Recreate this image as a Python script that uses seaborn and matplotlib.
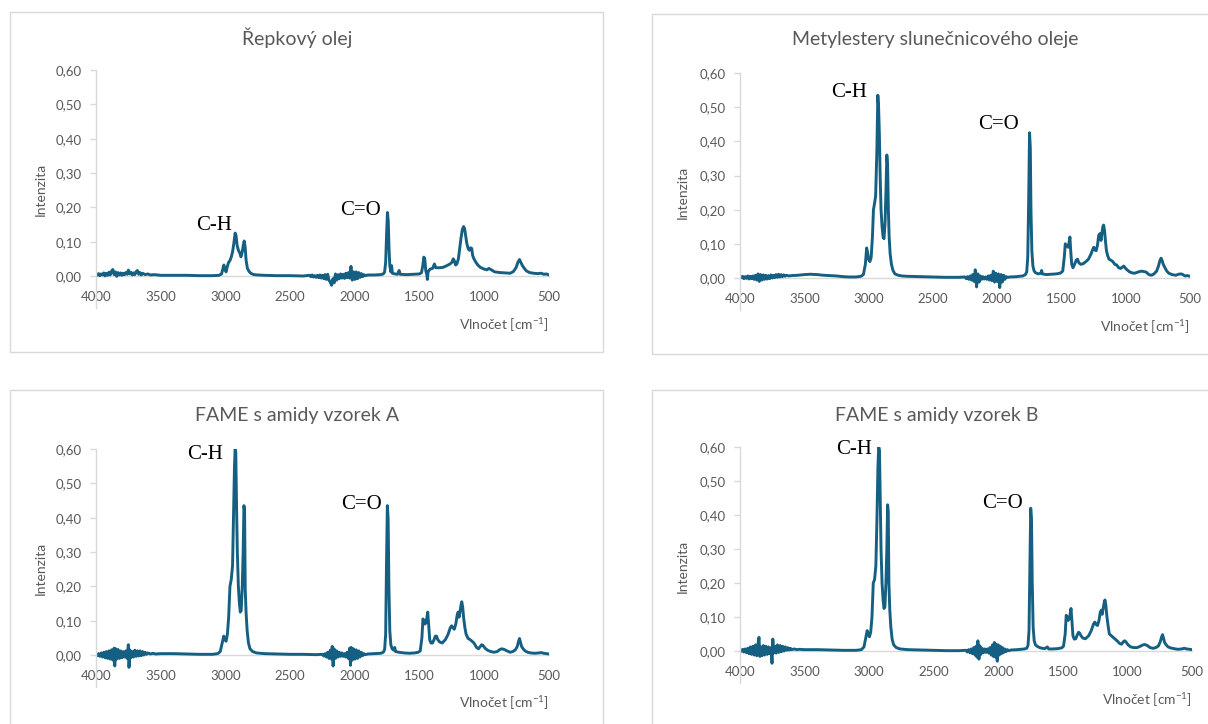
import numpy as np
import pandas as pd
import matplotlib
matplotlib.use("Agg")
import matplotlib.pyplot as plt
import seaborn as sns
from matplotlib.patches import Rectangle
from matplotlib.ticker import FuncFormatter

# ---------------- data (wavenumber [cm-1], intensity) ----------------
titles = ["Řepkový olej", "Metylestery slunečnicového oleje",
          "FAME s amidy vzorek A", "FAME s amidy vzorek B"]
x_ticks = [4000, 3500, 3000, 2500, 2000, 1500, 1000, 500]
y_ticks = [0.0, 0.1, 0.2, 0.3, 0.4, 0.5, 0.6]

repkovy_olej = [
    (4000, 0.004), (3990, 0.002), (3980, 0.007), (3970, 0.001), (3960, 0.006), (3950, 0.003),
    (3940, 0.009), (3930, 0.000), (3920, 0.008), (3910, 0.002), (3900, 0.011), (3890, 0.003),
    (3880, 0.014), (3870, 0.019), (3860, 0.004), (3850, 0.012), (3840, -0.001), (3830, 0.010),
    (3820, 0.003), (3810, 0.009), (3800, 0.002), (3790, 0.008), (3780, 0.004), (3770, 0.010),
    (3760, 0.005), (3750, 0.017), (3740, 0.006), (3730, 0.011), (3720, 0.003), (3710, 0.009),
    (3700, 0.004), (3690, 0.013), (3680, 0.016), (3670, 0.005), (3660, 0.010), (3650, 0.003),
    (3640, 0.008), (3620, 0.004), (3600, 0.006), (3580, 0.003), (3550, 0.004), (3500, 0.002),
    (3400, 0.002), (3300, 0.002), (3200, 0.001), (3100, 0.001), (3050, 0.002), (3030, 0.006),
    (3020, 0.020), (3012, 0.032), (3005, 0.020), (2995, 0.012), (2985, 0.028), (2975, 0.040),
    (2965, 0.045), (2955, 0.055), (2945, 0.070), (2935, 0.095), (2925, 0.125), (2918, 0.118),
    (2910, 0.090), (2900, 0.075), (2890, 0.068), (2880, 0.056), (2870, 0.070), (2862, 0.090),
    (2855, 0.102), (2848, 0.085), (2840, 0.045), (2830, 0.022), (2815, 0.012), (2800, 0.007),
    (2780, 0.004), (2750, 0.003), (2700, 0.002), (2600, 0.001), (2500, 0.001), (2400, 0.000),
    (2350, 0.002), (2340, -0.002), (2330, 0.003), (2320, -0.003), (2310, 0.001), (2300, -0.004),
    (2290, 0.002), (2280, -0.005), (2270, 0.003), (2260, -0.006), (2250, 0.002), (2240, -0.008),
    (2230, 0.004), (2220, -0.010), (2210, 0.005), (2200, -0.012), (2190, -0.018), (2180, -0.027),
    (2170, -0.008), (2160, -0.020), (2150, 0.006), (2140, -0.012), (2130, 0.004), (2120, -0.008),
    (2110, 0.006), (2100, -0.006), (2090, 0.005), (2080, -0.007), (2070, 0.008), (2060, -0.005),
    (2050, 0.010), (2040, -0.006), (2030, 0.028), (2020, -0.012), (2010, 0.012), (2000, -0.010),
    (1990, 0.012), (1980, -0.008), (1970, 0.010), (1960, -0.004), (1950, 0.007), (1940, -0.002),
    (1930, 0.004), (1920, 0.001), (1900, 0.003), (1850, 0.003), (1800, 0.004), (1780, 0.006),
    (1770, 0.012), (1762, 0.040), (1755, 0.120), (1748, 0.185), (1742, 0.160), (1736, 0.080),
    (1730, 0.030), (1722, 0.012), (1716, 0.030), (1710, 0.008), (1690, 0.006), (1670, 0.005),
    (1658, 0.016), (1650, 0.005), (1600, 0.004), (1550, 0.005), (1500, 0.006), (1485, 0.010),
    (1475, 0.030), (1467, 0.055), (1460, 0.050), (1452, 0.015), (1444, 0.005), (1440, -0.010),
    (1434, 0.012), (1420, 0.020), (1400, 0.022), (1385, 0.035), (1375, 0.024), (1350, 0.024),
    (1320, 0.025), (1290, 0.030), (1265, 0.035), (1250, 0.040), (1240, 0.050), (1232, 0.045),
    (1222, 0.032), (1212, 0.035), (1200, 0.050), (1190, 0.080), (1180, 0.110), (1170, 0.135),
    (1160, 0.144), (1152, 0.138), (1145, 0.120), (1135, 0.095), (1125, 0.080), (1115, 0.075),
    (1105, 0.082), (1097, 0.080), (1090, 0.060), (1080, 0.050), (1065, 0.040), (1050, 0.032),
    (1030, 0.025), (1000, 0.020), (980, 0.018), (965, 0.022), (950, 0.019), (920, 0.012),
    (880, 0.010), (840, 0.009), (800, 0.008), (775, 0.013), (755, 0.024), (740, 0.040),
    (728, 0.048), (718, 0.040), (705, 0.030), (690, 0.022), (675, 0.015), (650, 0.010),
    (620, 0.008), (590, 0.007), (560, 0.008), (540, 0.005), (520, 0.006), (500, 0.003),
]

metylestery = [
    (4000, 0.003), (3990, 0.001), (3980, 0.005), (3970, -0.002), (3960, 0.004), (3950, -0.001),
    (3940, 0.006), (3930, -0.003), (3920, 0.005), (3910, -0.002), (3900, 0.006), (3890, -0.004),
    (3880, 0.008), (3870, -0.006), (3860, 0.012), (3850, -0.010), (3840, 0.010), (3830, -0.006),
    (3820, 0.009), (3810, -0.004), (3800, 0.008), (3790, -0.003), (3780, 0.007), (3770, -0.002),
    (3760, 0.009), (3750, 0.000), (3740, 0.008), (3730, 0.001), (3720, 0.010), (3710, 0.002),
    (3700, 0.011), (3690, 0.003), (3680, 0.010), (3670, 0.004), (3660, 0.009), (3650, 0.005),
    (3640, 0.008), (3620, 0.006), (3600, 0.007), (3550, 0.008), (3500, 0.010), (3450, 0.011),
    (3400, 0.010), (3350, 0.008), (3300, 0.007), (3250, 0.006), (3200, 0.004), (3150, 0.003),
    (3100, 0.003), (3060, 0.005), (3040, 0.010), (3025, 0.040), (3015, 0.088), (3008, 0.075),
    (3000, 0.055), (2990, 0.048), (2980, 0.060), (2970, 0.120), (2962, 0.200), (2955, 0.215),
    (2945, 0.240), (2935, 0.380), (2928, 0.535), (2922, 0.500), (2916, 0.420), (2910, 0.300),
    (2903, 0.200), (2895, 0.150), (2887, 0.120), (2880, 0.115), (2872, 0.160), (2865, 0.250),
    (2858, 0.360), (2852, 0.330), (2846, 0.200), (2840, 0.120), (2832, 0.070), (2822, 0.040),
    (2810, 0.022), (2795, 0.012), (2770, 0.008), (2740, 0.006), (2700, 0.005), (2600, 0.004),
    (2500, 0.003), (2400, 0.002), (2300, 0.002), (2250, 0.003),
    (2240, -0.002), (2230, 0.004), (2220, -0.004), (2210, 0.006), (2200, -0.006), (2190, 0.010),
    (2180, -0.010), (2170, 0.024), (2160, -0.026), (2150, 0.012), (2140, -0.012), (2130, 0.006),
    (2120, -0.004), (2110, 0.004), (2100, -0.003), (2090, 0.003), (2080, -0.004), (2070, 0.006),
    (2060, -0.006), (2050, 0.008), (2040, -0.008), (2030, 0.020), (2020, -0.012), (2010, 0.014),
    (2000, -0.010), (1990, 0.012), (1980, -0.028), (1970, 0.010), (1960, -0.012), (1950, 0.008),
    (1940, -0.004), (1930, 0.004), (1920, 0.002), (1900, 0.003), (1850, 0.004), (1800, 0.006),
    (1780, 0.010), (1770, 0.018), (1762, 0.060), (1755, 0.220), (1748, 0.425), (1742, 0.380),
    (1737, 0.200), (1730, 0.080), (1722, 0.035), (1712, 0.020), (1700, 0.015), (1680, 0.012),
    (1660, 0.014), (1654, 0.022), (1648, 0.012), (1620, 0.010), (1580, 0.011), (1540, 0.012),
    (1510, 0.014), (1490, 0.020), (1478, 0.060), (1470, 0.100), (1462, 0.095), (1455, 0.095),
    (1448, 0.090), (1440, 0.105), (1434, 0.120), (1428, 0.080), (1420, 0.040), (1410, 0.030),
    (1398, 0.040), (1385, 0.052), (1375, 0.055), (1365, 0.045), (1350, 0.040), (1330, 0.042),
    (1310, 0.048), (1290, 0.055), (1270, 0.070), (1255, 0.085), (1248, 0.090), (1240, 0.082),
    (1230, 0.080), (1220, 0.095), (1210, 0.125), (1200, 0.130), (1192, 0.110), (1185, 0.130),
    (1178, 0.150), (1172, 0.155), (1165, 0.140), (1158, 0.110), (1150, 0.080), (1140, 0.065),
    (1130, 0.055), (1115, 0.052), (1100, 0.048), (1085, 0.040), (1070, 0.038), (1055, 0.030),
    (1040, 0.028), (1025, 0.032), (1015, 0.035), (1005, 0.030), (990, 0.024), (970, 0.018),
    (950, 0.015), (930, 0.014), (900, 0.018), (880, 0.020), (860, 0.019), (840, 0.017),
    (820, 0.010), (800, 0.008), (780, 0.012), (760, 0.020), (745, 0.035), (735, 0.050),
    (725, 0.058), (718, 0.052), (708, 0.040), (695, 0.030), (680, 0.020), (665, 0.014),
    (640, 0.010), (610, 0.008), (590, 0.011), (570, 0.012), (555, 0.010), (540, 0.006),
    (520, 0.007), (500, 0.005),
]

fame_a = [
    (4000, 0.002), (3990, -0.002), (3980, 0.004), (3970, -0.004), (3960, 0.006), (3950, -0.006),
    (3940, 0.008), (3930, -0.008), (3920, 0.010), (3910, -0.010), (3900, 0.012), (3890, -0.012),
    (3880, 0.015), (3870, -0.015), (3860, 0.020), (3855, -0.032), (3848, 0.018), (3840, -0.012),
    (3830, 0.016), (3820, -0.010), (3810, 0.012), (3800, -0.008), (3790, 0.010), (3780, -0.006),
    (3770, 0.012), (3760, -0.010), (3750, 0.030), (3745, -0.036), (3738, 0.015), (3730, -0.008),
    (3720, 0.010), (3710, -0.006), (3700, 0.014), (3690, -0.004), (3680, 0.012), (3670, -0.003),
    (3660, 0.012), (3650, -0.002), (3640, 0.010), (3630, 0.000), (3620, 0.008), (3610, 0.002),
    (3600, 0.006), (3580, 0.003), (3560, 0.005), (3540, 0.003), (3500, 0.004), (3400, 0.004),
    (3300, 0.003), (3200, 0.002), (3100, 0.002), (3060, 0.004), (3040, 0.010), (3025, 0.035),
    (3013, 0.055), (3005, 0.045), (2995, 0.040), (2985, 0.060), (2975, 0.110), (2965, 0.200),
    (2955, 0.220), (2945, 0.260), (2938, 0.400), (2930, 0.550), (2925, 0.600), (2920, 0.590),
    (2914, 0.430), (2908, 0.300), (2900, 0.200), (2892, 0.150), (2885, 0.125), (2878, 0.130),
    (2870, 0.200), (2863, 0.300), (2857, 0.435), (2852, 0.420), (2847, 0.190), (2840, 0.120),
    (2832, 0.070), (2822, 0.035), (2810, 0.018), (2790, 0.010), (2760, 0.006), (2700, 0.004),
    (2600, 0.003), (2500, 0.002), (2400, 0.002), (2300, 0.001), (2250, 0.002),
    (2240, -0.003), (2230, 0.004), (2220, -0.006), (2210, 0.008), (2200, -0.010), (2190, 0.014),
    (2180, -0.012), (2175, 0.025), (2168, -0.032), (2160, 0.018), (2150, -0.010), (2140, 0.012),
    (2130, -0.006), (2120, 0.008), (2110, -0.004), (2100, 0.006), (2090, -0.004), (2080, 0.004),
    (2070, -0.006), (2060, 0.008), (2050, -0.010), (2040, 0.020), (2034, -0.030), (2028, 0.022),
    (2020, -0.015), (2010, 0.018), (2000, -0.012), (1990, 0.015), (1980, -0.010), (1970, 0.012),
    (1960, -0.006), (1950, 0.008), (1940, -0.002), (1930, 0.004), (1920, 0.001), (1900, 0.003),
    (1850, 0.004), (1800, 0.005), (1780, 0.008), (1770, 0.016), (1762, 0.060), (1756, 0.250),
    (1749, 0.435), (1743, 0.400), (1737, 0.200), (1730, 0.070), (1722, 0.030), (1712, 0.018),
    (1700, 0.014), (1692, 0.022), (1685, 0.010), (1660, 0.008), (1620, 0.006), (1580, 0.005),
    (1540, 0.006), (1510, 0.008), (1495, 0.012), (1482, 0.050), (1474, 0.105), (1466, 0.100),
    (1458, 0.090), (1450, 0.095), (1443, 0.110), (1437, 0.125), (1430, 0.090), (1422, 0.045),
    (1412, 0.035), (1400, 0.035), (1388, 0.045), (1378, 0.055), (1369, 0.055), (1360, 0.045),
    (1345, 0.038), (1325, 0.035), (1300, 0.045), (1280, 0.060), (1262, 0.080), (1252, 0.085),
    (1243, 0.080), (1232, 0.075), (1220, 0.090), (1210, 0.115), (1202, 0.125), (1195, 0.110),
    (1188, 0.125), (1180, 0.145), (1174, 0.155), (1167, 0.140), (1160, 0.110), (1150, 0.080),
    (1140, 0.060), (1125, 0.048), (1110, 0.045), (1095, 0.040), (1080, 0.035), (1060, 0.022),
    (1045, 0.018), (1030, 0.025), (1020, 0.030), (1010, 0.028), (995, 0.020), (975, 0.014),
    (950, 0.010), (925, 0.008), (900, 0.010), (880, 0.016), (865, 0.018), (845, 0.016),
    (825, 0.012), (800, 0.008), (780, 0.010), (760, 0.015), (745, 0.025), (735, 0.040),
    (728, 0.048), (722, 0.040), (712, 0.025), (700, 0.018), (685, 0.012), (665, 0.008),
    (640, 0.006), (610, 0.005), (580, 0.006), (560, 0.007), (540, 0.005), (520, 0.004),
    (500, 0.003),
]

fame_b = [
    (4000, 0.003), (3990, -0.001), (3980, 0.005), (3970, -0.003), (3960, 0.006), (3950, -0.005),
    (3940, 0.008), (3930, -0.008), (3920, 0.012), (3910, -0.010), (3900, 0.014), (3890, -0.012),
    (3880, 0.018), (3870, -0.014), (3860, 0.022), (3853, 0.040), (3846, -0.016), (3840, 0.012),
    (3830, -0.014), (3820, 0.016), (3810, -0.012), (3800, 0.014), (3790, -0.010), (3780, 0.012),
    (3770, -0.008), (3760, 0.010), (3752, -0.036), (3746, 0.035), (3738, -0.006), (3730, 0.014),
    (3720, -0.006), (3710, 0.018), (3700, -0.004), (3690, 0.016), (3680, -0.002), (3670, 0.014),
    (3660, 0.000), (3650, 0.012), (3640, 0.002), (3630, 0.010), (3620, 0.003), (3610, 0.008),
    (3600, 0.004), (3580, 0.006), (3560, 0.004), (3540, 0.005), (3500, 0.004), (3400, 0.004),
    (3300, 0.003), (3200, 0.002), (3100, 0.002), (3060, 0.004), (3040, 0.012), (3025, 0.040),
    (3015, 0.060), (3007, 0.050), (2998, 0.042), (2988, 0.055), (2978, 0.100), (2968, 0.200),
    (2958, 0.210), (2948, 0.250), (2940, 0.380), (2932, 0.540), (2926, 0.600), (2920, 0.590),
    (2914, 0.440), (2908, 0.300), (2900, 0.200), (2892, 0.150), (2885, 0.125), (2878, 0.130),
    (2870, 0.200), (2863, 0.300), (2857, 0.430), (2852, 0.410), (2847, 0.200), (2840, 0.120),
    (2832, 0.070), (2822, 0.035), (2810, 0.018), (2790, 0.010), (2760, 0.006), (2700, 0.004),
    (2600, 0.003), (2500, 0.002), (2400, 0.001), (2300, 0.001), (2250, 0.002),
    (2240, -0.003), (2230, 0.004), (2220, -0.005), (2210, 0.006), (2200, -0.008), (2190, 0.010),
    (2180, -0.012), (2172, 0.014), (2165, -0.018), (2158, 0.030), (2150, -0.024), (2142, 0.015),
    (2135, -0.010), (2125, 0.008), (2115, -0.005), (2105, 0.006), (2095, -0.004), (2085, 0.006),
    (2075, -0.006), (2065, 0.010), (2055, -0.012), (2045, 0.018), (2038, -0.016), (2030, 0.025),
    (2023, -0.018), (2016, 0.020), (2008, -0.030), (2000, 0.018), (1992, -0.012), (1984, 0.014),
    (1976, -0.008), (1968, 0.010), (1960, -0.005), (1950, 0.006), (1940, -0.002), (1930, 0.004),
    (1920, 0.001), (1900, 0.003), (1850, 0.004), (1800, 0.006), (1780, 0.008), (1770, 0.016),
    (1762, 0.060), (1756, 0.220), (1749, 0.420), (1743, 0.390), (1737, 0.200), (1730, 0.070),
    (1722, 0.030), (1712, 0.018), (1700, 0.014), (1680, 0.010), (1660, 0.008), (1640, 0.007),
    (1620, 0.012), (1610, 0.006), (1580, 0.006), (1540, 0.007), (1510, 0.009), (1495, 0.014),
    (1482, 0.050), (1474, 0.105), (1466, 0.100), (1458, 0.090), (1450, 0.095), (1443, 0.110),
    (1437, 0.125), (1430, 0.090), (1422, 0.045), (1412, 0.035), (1400, 0.036), (1388, 0.048),
    (1378, 0.055), (1369, 0.052), (1360, 0.045), (1345, 0.038), (1325, 0.036), (1300, 0.045),
    (1280, 0.060), (1262, 0.080), (1252, 0.085), (1243, 0.078), (1232, 0.075), (1220, 0.090),
    (1210, 0.115), (1202, 0.120), (1195, 0.108), (1188, 0.125), (1180, 0.142), (1174, 0.150),
    (1167, 0.135), (1160, 0.105), (1150, 0.075), (1140, 0.050), (1125, 0.045), (1110, 0.040),
    (1095, 0.035), (1080, 0.030), (1060, 0.022), (1045, 0.020), (1030, 0.028), (1020, 0.030),
    (1010, 0.026), (995, 0.018), (975, 0.012), (950, 0.010), (925, 0.010), (900, 0.014),
    (880, 0.018), (865, 0.019), (845, 0.016), (825, 0.010), (800, 0.008), (780, 0.010),
    (760, 0.015), (745, 0.028), (735, 0.042), (728, 0.048), (722, 0.040), (712, 0.025),
    (700, 0.018), (685, 0.012), (665, 0.009), (640, 0.007), (610, 0.005), (580, 0.006),
    (560, 0.008), (540, 0.006), (520, 0.005), (500, 0.004),
]

# annotation label anchor points (wavenumber, intensity) per panel
ch_labels = [(3088, 0.146), (3152, 0.544), (3158, 0.585), (3113, 0.594)]
co_labels = [(1953, 0.192), (1986, 0.448), (1945, 0.437), (1970, 0.435)]

spectra = [repkovy_olej, metylestery, fame_a, fame_b]

# ---------------- styling ----------------
sns.set_theme(style="white")
plt.rcParams["font.family"] = ["Lato", "DejaVu Sans"]
plt.rcParams["mathtext.fontset"] = "custom"
plt.rcParams["mathtext.rm"] = "Lato"
plt.rcParams["mathtext.it"] = "Lato"

W, H = 1208, 724
LINE = "#156082"
TXT = "#595959"
AX = "#d9d9d9"

fig = plt.figure(figsize=(W / 100, H / 100), dpi=100)

# panel layout in pixels: box (x0,y0,x1,y1), axes left/right px, y px of 0.60 and 0.00
panels = [
    dict(box=(10, 12, 603, 352), xl=96, xr=549, ytop=70, yzero=276, title=(297, 38), xlab=(549, 325), ylab=(41, 189)),
    dict(box=(652, 14, 1215, 354), xl=740, xr=1190, ytop=73, yzero=278, title=(935, 40), xlab=(1190, 327), ylab=(683, 192)),
    dict(box=(10, 390, 603, 735), xl=96, xr=549, ytop=449, yzero=655, title=(297, 415), xlab=(549, 703), ylab=(41, 568)),
    dict(box=(652, 390, 1215, 735), xl=740, xr=1192, ytop=447, yzero=651, title=(937, 415), xlab=(1192, 700), ylab=(683, 566)),
]
YMIN = -0.093

for i, p in enumerate(panels):
    bx0, by0, bx1, by1 = p["box"]
    fig.add_artist(Rectangle((bx0 / W, 1 - by1 / H), (bx1 - bx0) / W, (by1 - by0) / H,
                             transform=fig.transFigure, fill=False, ec=AX, lw=1.0))
    ppu = (p["yzero"] - p["ytop"]) / 0.6
    ybot = p["yzero"] - YMIN * ppu
    ax = fig.add_axes([p["xl"] / W, 1 - ybot / H, (p["xr"] - p["xl"]) / W, (ybot - p["ytop"]) / H])
    ax.set_facecolor("none")

    df = pd.DataFrame(spectra[i], columns=["wn", "intensity"])
    sns.lineplot(data=df, x="wn", y="intensity", sort=False, estimator=None,
                 color=LINE, lw=2.1, ax=ax)

    ax.set_xlim(4000, 500)
    ax.set_ylim(YMIN, 0.6)
    ax.set_xticks(x_ticks)
    ax.set_yticks(y_ticks)
    ax.yaxis.set_major_formatter(FuncFormatter(lambda v, _: f"{v:.2f}".replace(".", ",")))
    ax.set_xlabel("")
    ax.set_ylabel("")
    for s in ["top", "right"]:
        ax.spines[s].set_visible(False)
    ax.spines["left"].set_color(AX)
    ax.spines["left"].set_linewidth(1.0)
    ax.spines["bottom"].set_position(("data", 0))
    ax.spines["bottom"].set_color(AX)
    ax.spines["bottom"].set_linewidth(1.0)
    ax.spines["bottom"].set_zorder(0)
    ax.tick_params(axis="y", which="major", left=True, length=4, width=1, color=AX,
                   labelsize=9.5, labelcolor=TXT, pad=6)
    ax.tick_params(axis="x", which="major", bottom=False, labelsize=9.5, labelcolor=TXT, pad=5)

    ax.text(*ch_labels[i], "C-H", family="Liberation Serif", fontsize=15, color="black",
            ha="center", va="center")
    ax.text(*co_labels[i], "C=O", family="Liberation Serif", fontsize=15, color="black",
            ha="center", va="center")

    tx, ty = p["title"]
    fig.text(tx / W, 1 - ty / H, titles[i], ha="center", va="center", fontsize=14, color=TXT)
    lx, ly = p["xlab"]
    fig.text(lx / W, 1 - ly / H, r"Vlnočet [cm$^{-1}$]", ha="right", va="center",
             fontsize=10, color=TXT)
    yx, yy = p["ylab"]
    fig.text(yx / W, 1 - yy / H, "Intenzita", ha="center", va="center", rotation=90,
             fontsize=10, color=TXT)

fig.savefig("out.png", dpi=100)
